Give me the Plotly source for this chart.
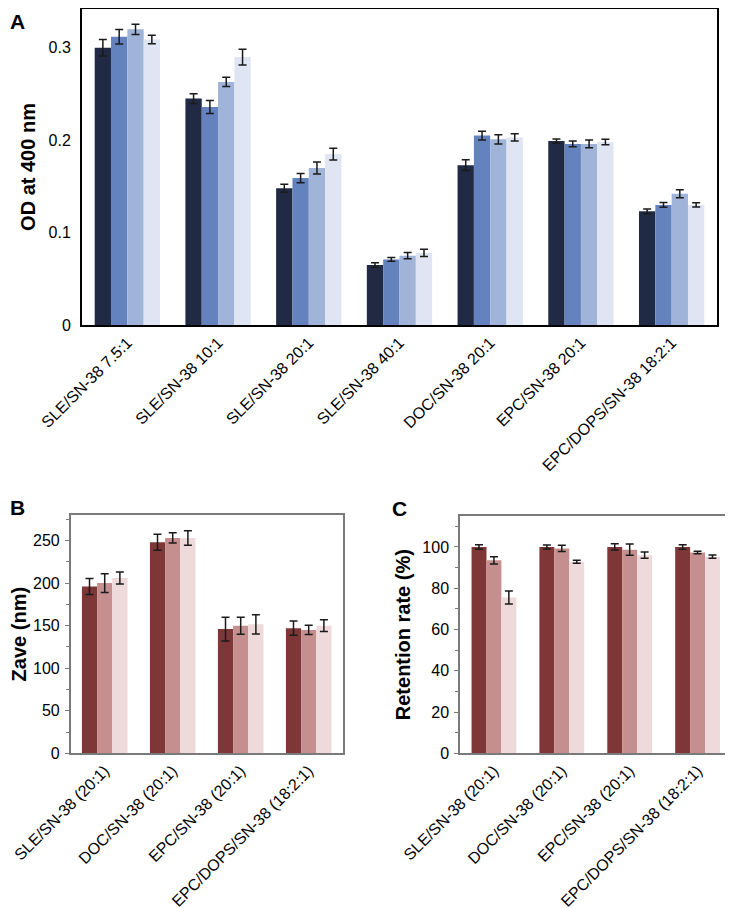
import plotly.graph_objects as go

# ---------------- data ----------------
od_groups = ["SLE/SN-38 7.5:1", "SLE/SN-38 10:1", "SLE/SN-38 20:1", "SLE/SN-38 40:1",
             "DOC/SN-38 20:1", "EPC/SN-38 20:1", "EPC/DOPS/SN-38 18:2:1"]
od_s1 = [0.300, 0.245, 0.148, 0.065, 0.173, 0.199, 0.123]
od_s2 = [0.312, 0.236, 0.159, 0.071, 0.205, 0.196, 0.130]
od_s3 = [0.320, 0.263, 0.170, 0.075, 0.201, 0.196, 0.142]
od_s4 = [0.309, 0.290, 0.185, 0.078, 0.203, 0.198, 0.130]
od_e1 = [0.009, 0.0054, 0.0043, 0.0025, 0.0058, 0.0023, 0.0025]
od_e2 = [0.0078, 0.007, 0.005, 0.002, 0.0047, 0.0032, 0.0025]
od_e3 = [0.0056, 0.005, 0.0065, 0.0034, 0.005, 0.0043, 0.0043]
od_e4 = [0.0047, 0.0085, 0.0063, 0.004, 0.004, 0.003, 0.0023]

fm_groups = ["SLE/SN-38 (20:1)", "DOC/SN-38 (20:1)", "EPC/SN-38 (20:1)", "EPC/DOPS/SN-38 (18:2:1)"]
zave_1 = [196, 248, 146, 147]
zave_2 = [200, 253, 150, 145]
zave_3 = [206, 253, 151.5, 150]
zave_e1 = [9.4, 9.4, 14, 8.4]
zave_e2 = [11, 6, 10, 5.5]
zave_e3 = [7, 8.6, 11.4, 7]

ret_1 = [100, 100, 100, 100]
ret_2 = [93.5, 99.3, 98.7, 97.3]
ret_3 = [75.5, 92.8, 96.0, 95.3]
ret_e1 = [1.1, 1.0, 1.5, 1.1]
ret_e2 = [1.8, 1.5, 2.7, 0.6]
ret_e3 = [3.1, 0.7, 1.5, 0.8]

blue_colors = ["#212a45", "#6482bd", "#a0b3d8", "#dfe5f2"]
red_colors = ["#7e3637", "#c58f8f", "#eedada"]

FONT = "Arial, Liberation Sans, sans-serif"

fig = go.Figure()

def add_bars(cats, series, errs, colors, xa, ya, total_w):
    n = len(series)
    w = total_w / n
    for i, (vals, err, col) in enumerate(zip(series, errs, colors)):
        fig.add_trace(go.Bar(
            x=cats, y=vals, xaxis=xa, yaxis=ya,
            width=w, offset=-total_w / 2 + i * w,
            marker=dict(color=col, line=dict(width=0)),
            error_y=dict(type="data", array=err, color="#1a1a1a", thickness=1.5, width=4),
            showlegend=False,
        ))

add_bars(od_groups, [od_s1, od_s2, od_s3, od_s4], [od_e1, od_e2, od_e3, od_e4],
         blue_colors, "x", "y", 0.72)
add_bars(fm_groups, [zave_1, zave_2, zave_3], [zave_e1, zave_e2, zave_e3],
         red_colors, "x2", "y2", 0.67)
add_bars(fm_groups, [ret_1, ret_2, ret_3], [ret_e1, ret_e2, ret_e3],
         red_colors, "x3", "y3", 0.66)

W, H = 733, 908
OX, OY = 8, 8  # page body margin offset


def px_x(a, b):
    return [max(0, (a - OX) / W), min(1, (b - OX) / W)]


def px_y(top, bottom):
    return [max(0, 1 - (bottom - OY) / H), min(1, 1 - (top - OY) / H)]


def ann_x(a):
    return max(0, (a - OX) / W)


def ann_y(b):
    return min(1, 1 - (b - OY) / H)


xtickfont = dict(family=FONT, size=16, color="black")
ytickfont = dict(family=FONT, size=16, color="black")
titlefont = dict(family=FONT, size=20, color="black")
GRAY = "#7a7a7a"

# panel A: the top edge can't go above the page offset, keep the value scale
A_TOP, A_BOT = 9, 325
A_MAX = (A_BOT - A_TOP) / 924.0

fig.update_layout(
    width=W, height=H,
    margin=dict(l=0, r=0, t=0, b=0, autoexpand=False),
    paper_bgcolor="white", plot_bgcolor="white",
    barmode="overlay",
    font=dict(family=FONT, color="black"),
    xaxis=dict(domain=px_x(82, 717), anchor="y", range=[-0.5, 6.5], automargin=False,
               showline=True, linecolor="black", linewidth=2, mirror=True,
               tickangle=-45, tickfont=xtickfont, showgrid=False, ticks=""),
    yaxis=dict(domain=px_y(A_TOP, A_BOT), anchor="x", range=[0, A_MAX], automargin=False,
               tickvals=[0, 0.1, 0.2, 0.3], ticktext=["0", "0.1", "0.2", "0.3"],
               showline=True, linecolor="black", linewidth=2, mirror=True,
               showgrid=False, zeroline=False, tickfont=ytickfont,
               ticks="", ticklabelstandoff=6,
               title=dict(text="<b>OD at 400 nm</b>", font=titlefont, standoff=8)),
    xaxis2=dict(domain=px_x(70.7, 342.7), anchor="y2", range=[-0.5, 3.5], automargin=False,
                showline=True, linecolor=GRAY, linewidth=1.5, mirror=True,
                tickangle=-45, tickfont=xtickfont, showgrid=False, ticks=""),
    yaxis2=dict(domain=px_y(515, 753.3), anchor="x2", range=[0, 280], automargin=False,
                dtick=50, showline=True, linecolor=GRAY, linewidth=1.5, mirror=True,
                ticks="outside", ticklen=4, tickcolor=GRAY, tickwidth=1, ticklabelstandoff=2,
                minor=dict(dtick=25, ticks="outside", ticklen=3, tickcolor=GRAY, showgrid=False),
                showgrid=False, zeroline=False, tickfont=ytickfont,
                title=dict(text="<b>Zave (nm)</b>", font=titlefont, standoff=8)),
    xaxis3=dict(domain=px_x(460, 731.5), anchor="y3", range=[-0.5, 3.5], automargin=False,
                showline=True, linecolor=GRAY, linewidth=1.5, mirror=True,
                tickangle=-45, tickfont=xtickfont, showgrid=False, ticks=""),
    yaxis3=dict(domain=px_y(516, 753.3), anchor="x3", range=[0, 115], automargin=False,
                dtick=20, showline=True, linecolor=GRAY, linewidth=1.5, mirror=True,
                ticks="outside", ticklen=4, tickcolor=GRAY, tickwidth=1, ticklabelstandoff=2,
                minor=dict(dtick=10, ticks="outside", ticklen=3, tickcolor=GRAY, showgrid=False),
                showgrid=False, zeroline=False, tickfont=ytickfont,
                title=dict(text="<b>Retention rate (%)</b>", font=titlefont, standoff=6)),
    annotations=[
        dict(text="<b>A</b>", x=0, y=1, xref="paper", yref="paper",
             xanchor="left", yanchor="top", showarrow=False,
             font=dict(family=FONT, size=21, color="black")),
        dict(text="<b>B</b>", x=0, y=ann_y(507.5), xref="paper", yref="paper",
             xanchor="left", yanchor="middle", showarrow=False,
             font=dict(family=FONT, size=21, color="black")),
        dict(text="<b>C</b>", x=ann_x(390), y=ann_y(508.5), xref="paper", yref="paper",
             xanchor="left", yanchor="middle", showarrow=False,
             font=dict(family=FONT, size=21, color="black")),
    ],
)

fig.write_html("out.html")
